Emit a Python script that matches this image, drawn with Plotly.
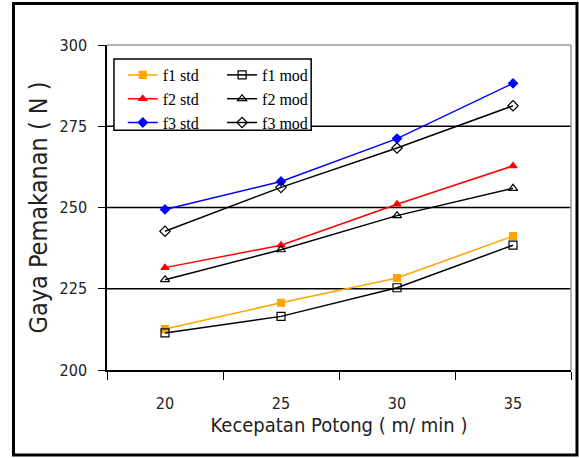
import plotly.graph_objects as go

# Cutting speed categories (m/min)
speeds = ["20", "25", "30", "35"]

# Feed force (N) for standard and modified tools at three feed levels
f1_std = [212.6, 220.7, 228.3, 241.2]
f1_mod = [211.4, 216.5, 225.3, 238.4]
f2_std = [231.5, 238.4, 251.0, 262.8]
f2_mod = [227.8, 237.0, 247.5, 255.9]
f3_std = [249.4, 258.0, 271.2, 288.2]
f3_mod = [242.7, 256.2, 268.3, 281.3]

y_ticks = [200, 225, 250, 275, 300]
grid_levels = [225, 250, 275]

series = [
    ("f1 std", f1_std, "#FFA500", "square", "legend"),
    ("f2 std", f2_std, "#FF0000", "triangle-up", "legend"),
    ("f3 std", f3_std, "#0000FF", "diamond", "legend"),
    ("f1 mod", f1_mod, "#000000", "square-open", "legend2"),
    ("f2 mod", f2_mod, "#000000", "triangle-up-open", "legend2"),
    ("f3 mod", f3_mod, "#000000", "diamond-open", "legend2"),
]

fig = go.Figure()
for name, vals, color, symbol, leg in series:
    size = 8 if "open" in symbol else 7
    fig.add_trace(go.Scatter(
        x=speeds, y=vals, name=name, mode="lines+markers",
        line=dict(color=color, width=1.5),
        marker=dict(symbol=symbol, size=size, color=color,
                    line=dict(color=color, width=1.2)),
        legend=leg,
    ))

# Horizontal reference lines
for lvl in grid_levels:
    fig.add_shape(type="line", xref="paper", yref="y", x0=0, x1=1, y0=lvl, y1=lvl,
                  line=dict(color="black", width=1.6), layer="below")

# Gray plot-area frame (top and right)
fig.add_shape(type="line", xref="paper", yref="paper", x0=0, x1=1, y0=1, y1=1,
              line=dict(color="#9a9a9a", width=1.5))
fig.add_shape(type="line", xref="paper", yref="paper", x0=1, x1=1, y0=0, y1=1,
              line=dict(color="#9a9a9a", width=1.5))

# Legend box
fig.add_shape(type="rect", xref="paper", yref="paper",
              x0=0.015, x1=0.44, y0=0.738, y1=0.957,
              line=dict(color="black", width=1.5), fillcolor="white", layer="above")

# Outer frame around the whole figure
fig.add_shape(type="rect", xref="paper", yref="paper",
              x0=-0.2015, x1=1.0129, y0=-0.2615, y1=1.1277,
              line=dict(color="black", width=3))

narrow = "DejaVu Sans Condensed, Liberation Sans Narrow, Roboto Condensed, Liberation Sans, sans-serif"
legend_font = dict(family="Liberation Serif, serif", size=16, color="black")
fig.update_layout(
    width=579, height=458,
    margin=dict(l=107, r=8, t=45, b=88),
    paper_bgcolor="white", plot_bgcolor="white",
    showlegend=True,
    legend=dict(x=0.034, y=0.96, xanchor="left", yanchor="top",
                bgcolor="rgba(0,0,0,0)", font=legend_font, tracegroupgap=0,
                itemwidth=30),
    legend2=dict(x=0.248, y=0.96, xanchor="left", yanchor="top",
                 bgcolor="rgba(0,0,0,0)", font=legend_font, tracegroupgap=0,
                 itemwidth=30),
    xaxis=dict(
        type="category", range=[-0.5, 3.5],
        showline=True, linecolor="black", linewidth=1.5,
        ticks="outside", tickson="boundaries", ticklen=8, tickcolor="black",
        tickfont=dict(family=narrow, size=16, color="#222"),
        ticklabelstandoff=18,
        showgrid=False, zeroline=False,
        title=dict(text="Kecepatan Potong ( m/ min )",
                   font=dict(family=narrow, size=20, color="#222"),
                   standoff=2),
    ),
    yaxis=dict(
        range=[200, 300], tickvals=y_ticks,
        showline=True, linecolor="black", linewidth=1.5,
        ticks="outside", ticklen=7, tickcolor="black",
        tickfont=dict(family=narrow, size=16, color="#222"),
        ticklabelstandoff=8,
        showgrid=False, zeroline=False,
        title=dict(text="Gaya Pemakanan ( N )",
                   font=dict(family=narrow, size=25, color="#222"),
                   standoff=5),
    ),
)

fig.write_html("out.html")
